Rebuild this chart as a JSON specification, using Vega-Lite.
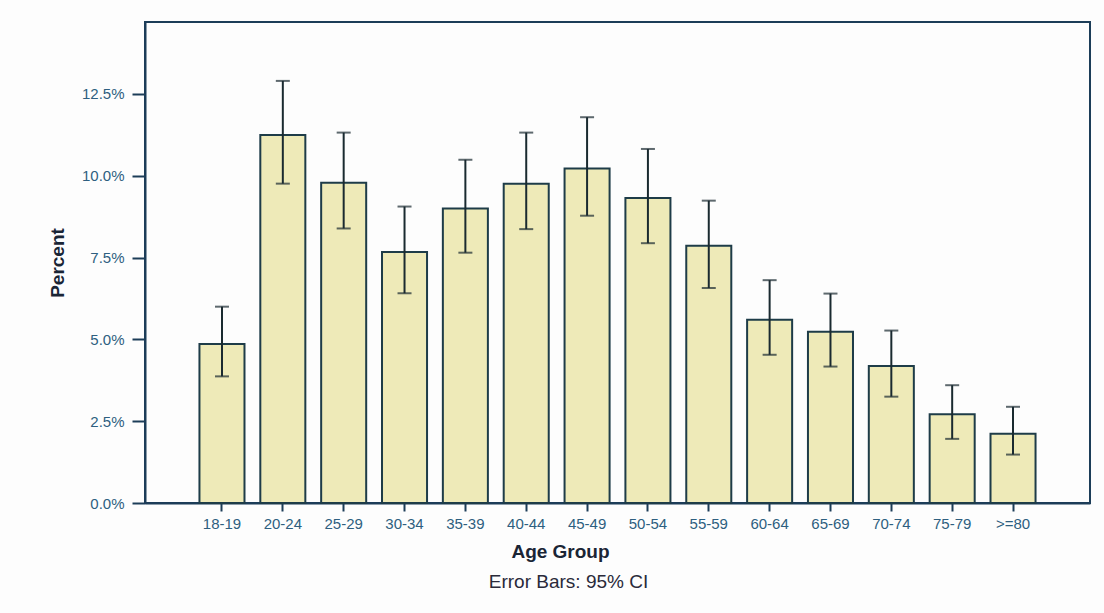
{
  "$schema": "https://vega.github.io/schema/vega-lite/v6.json",
  "autosize": "none",
  "width": 945,
  "height": 481,
  "padding": {"left": 145, "top": 22, "right": 14, "bottom": 110},
  "background": "#fdfdfd",
  "config": {
    "font": "Liberation Sans",
    "view": {"stroke": "#1c3d58", "strokeWidth": 2},
    "axis": {
      "domainColor": "#1c3d58",
      "domainWidth": 2,
      "tickColor": "#1c3d58",
      "tickWidth": 2,
      "labelColor": "#2e5f80",
      "labelFont": "Liberation Sans",
      "labelFontSize": 15,
      "titleColor": "#1a2535",
      "titleFont": "Liberation Sans",
      "titleFontWeight": "bold",
      "titleFontSize": 19,
      "grid": false
    }
  },
  "title": {
    "text": "Error Bars: 95% CI",
    "orient": "bottom",
    "anchor": "middle",
    "dx": -49,
    "offset": 12,
    "font": "Liberation Sans",
    "fontSize": 19,
    "fontWeight": "normal",
    "color": "#2a2a3a"
  },
  "data": {
    "values": [
      {"age": "18-19", "pct": 4.86, "lo": 3.87, "hi": 6.00},
      {"age": "20-24", "pct": 11.25, "lo": 9.76, "hi": 12.90},
      {"age": "25-29", "pct": 9.79, "lo": 8.39, "hi": 11.32},
      {"age": "30-34", "pct": 7.67, "lo": 6.41, "hi": 9.06},
      {"age": "35-39", "pct": 9.00, "lo": 7.65, "hi": 10.49},
      {"age": "40-44", "pct": 9.76, "lo": 8.37, "hi": 11.32},
      {"age": "45-49", "pct": 10.22, "lo": 8.78, "hi": 11.79},
      {"age": "50-54", "pct": 9.32, "lo": 7.94, "hi": 10.82},
      {"age": "55-59", "pct": 7.86, "lo": 6.57, "hi": 9.24},
      {"age": "60-64", "pct": 5.60, "lo": 4.53, "hi": 6.81},
      {"age": "65-69", "pct": 5.23, "lo": 4.17, "hi": 6.40},
      {"age": "70-74", "pct": 4.19, "lo": 3.25, "hi": 5.27},
      {"age": "75-79", "pct": 2.71, "lo": 1.96, "hi": 3.60},
      {"age": ">=80", "pct": 2.12, "lo": 1.48, "hi": 2.94}
    ]
  },
  "encoding": {
    "x": {
      "field": "age",
      "type": "nominal",
      "sort": null,
      "scale": {"paddingInner": 0.26, "paddingOuter": 0.895},
      "axis": {
        "title": "Age Group",
        "labelAngle": 0,
        "tickSize": 8,
        "labelPadding": 5,
        "titleX": 415,
        "titleY": 54,
        "titleBaseline": "alphabetic"
      }
    }
  },
  "layer": [
    {
      "mark": {"type": "bar", "fill": "#eeeab8", "stroke": "#1e3c48", "strokeWidth": 2},
      "encoding": {
        "y": {
          "field": "pct",
          "type": "quantitative",
          "scale": {"domain": [0, 14.7], "nice": false},
          "axis": {
            "title": "Percent",
            "values": [0, 2.5, 5, 7.5, 10, 12.5],
            "labelExpr": "format(datum.value, '.1f') + '%'",
            "tickSize": 13,
            "labelPadding": 8,
            "titlePadding": 14
          }
        }
      }
    },
    {
      "mark": {"type": "rule", "color": "#1a2a30", "strokeWidth": 2},
      "encoding": {
        "y": {"field": "lo", "type": "quantitative"},
        "y2": {"field": "hi"}
      }
    },
    {
      "mark": {"type": "tick", "color": "#1a2a30", "size": 14, "thickness": 2},
      "encoding": {"y": {"field": "lo", "type": "quantitative"}}
    },
    {
      "mark": {"type": "tick", "color": "#1a2a30", "size": 14, "thickness": 2},
      "encoding": {"y": {"field": "hi", "type": "quantitative"}}
    }
  ]
}
